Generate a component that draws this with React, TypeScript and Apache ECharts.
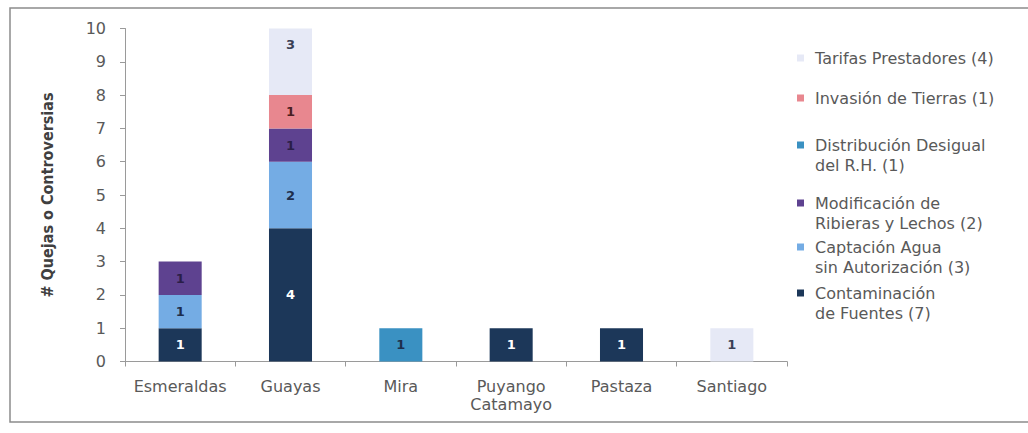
import React, { useEffect, useRef } from "react";
import * as echarts from "echarts";

const categories = ["Esmeraldas", "Guayas", "Mira", "Puyango\nCatamayo", "Pastaza", "Santiago"];
const yTicks = [0, 1, 2, 3, 4, 5, 6, 7, 8, 9, 10];

const contaminacion = [1, 4, 0, 1, 1, 0];
const captacion = [1, 2, 0, 0, 0, 0];
const modificacion = [1, 1, 0, 0, 0, 0];
const distribucion = [0, 0, 1, 0, 0, 0];
const invasion = [0, 1, 0, 0, 0, 0];
const tarifas = [0, 3, 0, 0, 0, 1];

const seriesNames = [
  "Contaminación de Fuentes (7)",
  "Captación Agua sin Autorización (3)",
  "Modificación de Ribieras y Lechos (2)",
  "Distribución Desigual del R.H. (1)",
  "Invasión de Tierras (1)",
  "Tarifas Prestadores (4)",
];
const legendLabels = [
  "Contaminación\nde Fuentes (7)",
  "Captación Agua\nsin Autorización (3)",
  "Modificación de\nRibieras y Lechos (2)",
  "Distribución Desigual\ndel R.H. (1)",
  "Invasión de Tierras (1)",
  "Tarifas Prestadores (4)",
];
const seriesData = [contaminacion, captacion, modificacion, distribucion, invasion, tarifas];
const colors = ["#1C3759", "#74ACE4", "#5E4290", "#3A91C2", "#E8878F", "#E6E9F6"];
const labelColors = ["#ffffff", "#1E2E4C", "#2A1E48", "#1E2E4C", "#4A1E22", "#3A3F55"];

// legend item centre (first text line) for each series
const legendCenters = [293, 247, 203, 145, 98, 58];

const FONT = "'DejaVu Sans', sans-serif";

export default function App() {
  const ref = useRef<HTMLDivElement>(null);
  useEffect(() => {
    if (!ref.current) return;
    const chart = echarts.init(ref.current, undefined, { renderer: "svg" });
    const LH = 20;
    const legends = seriesNames.map((name, i) => {
      const twoLines = legendLabels[i].indexOf("\n") >= 0;
      const c = legendCenters[i];
      return {
        data: [name],
        orient: "vertical",
        left: 797,
        top: twoLines ? c - LH * 1.5 : c - LH / 2,
        padding: 0,
        itemWidth: 7,
        itemHeight: 7,
        icon: "rect",
        selectedMode: false,
        // a leading empty line keeps the marker level with the first text line
        formatter: () => (twoLines ? "\n" + legendLabels[i] : legendLabels[i]),
        textStyle: {
          fontFamily: FONT,
          fontSize: 16,
          color: "#595959",
          lineHeight: LH,
          padding: [0, 0, 0, 6],
        },
      };
    });
    const yMax = yTicks[yTicks.length - 1];
    const series = seriesNames.map((name, i) => ({
      name,
      type: "bar",
      stack: "total",
      barWidth: "39%",
      clip: true,
      itemStyle: { color: colors[i] },
      label: {
        show: true,
        position: "inside",
        color: labelColors[i],
        fontFamily: FONT,
        fontSize: 13,
        fontWeight: "bold",
        formatter: (p: any) => (p.value ? String(p.value) : ""),
      },
      data: seriesData[i].map((v, j) => {
        const below = seriesData.slice(0, i).reduce((s, a) => s + a[j], 0);
        // a bar that exceeds the axis maximum is cut at the top of the plot
        if (v && below + v > yMax) {
          return { value: v, label: { position: "insideTop", distance: 9 } };
        }
        return v;
      }),
    }));
    chart.setOption({
      animation: false,
      backgroundColor: "#ffffff",
      grid: { left: 125, right: 241, top: 28.5, bottom: 71.5, containLabel: false },
      legend: legends,
      xAxis: {
        type: "category",
        data: categories,
        axisLine: { lineStyle: { color: "#9a9a9a", width: 1 } },
        axisTick: { show: true, alignWithLabel: false, length: 5, lineStyle: { color: "#9a9a9a" } },
        axisLabel: {
          fontFamily: FONT,
          fontSize: 16,
          color: "#595959",
          margin: 16,
          lineHeight: 18,
          interval: 0,
        },
      },
      yAxis: {
        type: "value",
        min: yTicks[0],
        max: yMax,
        interval: 1,
        name: "# Quejas o Controversias",
        nameLocation: "middle",
        nameRotate: 90,
        nameGap: 70,
        nameTextStyle: {
          fontFamily: "'Liberation Sans Narrow', 'DejaVu Sans Condensed', sans-serif",
          fontWeight: "bold",
          fontSize: 16,
          color: "#404040",
        },
        axisLine: { show: true, lineStyle: { color: "#9a9a9a", width: 1 } },
        axisTick: { show: true, length: 5, lineStyle: { color: "#9a9a9a" } },
        splitLine: { show: false },
        axisLabel: { fontFamily: FONT, fontSize: 16, color: "#595959", margin: 19 },
      },
      graphic: [
        {
          type: "rect",
          shape: { x: 10, y: 8, width: 1030, height: 414 },
          style: { fill: "none", stroke: "#8c8c8c", lineWidth: 1.5 },
          silent: true,
          z: -1,
        },
      ],
      series,
    });
    return () => chart.dispose();
  }, []);
  return (
    <div
      ref={ref}
      style={{ position: "fixed", left: 0, top: 0, width: 1028, height: 433, background: "#fff" }}
    />
  );
}
